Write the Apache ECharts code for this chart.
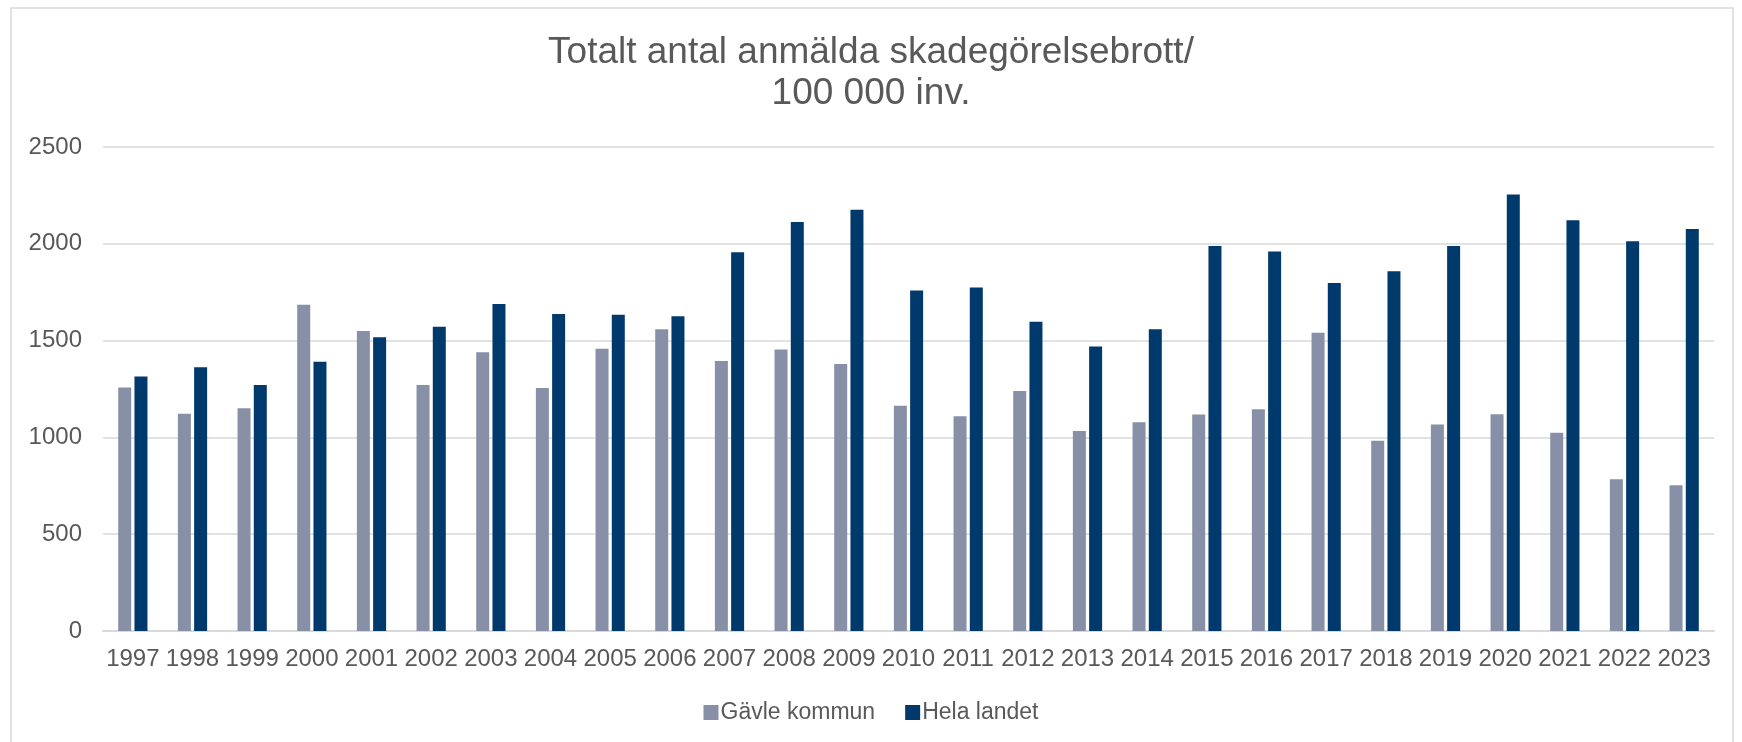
<!DOCTYPE html>
<html>
<head>
<meta charset="utf-8">
<script src="https://cdn.jsdelivr.net/npm/echarts@6/dist/echarts.min.js"></script>
<style>
  html, body { margin: 0; padding: 0; background: #fff; }
  #main { width: 1742px; height: 742px; }
</style>
</head>
<body>
<div id="main"></div>
<script>
var years = ['1997','1998','1999','2000','2001','2002','2003','2004','2005','2006','2007','2008','2009','2010',
  '2011','2012','2013','2014','2015','2016','2017','2018','2019','2020','2021','2022','2023'];
// Gävle kommun
var gavle = [1258,1122,1150,1685,1550,1271,1440,1255,1458,1559,1395,1454,1379,1163,
  1109,1240,1033,1078,1118,1146,1541,983,1066,1120,1024,784,753];
// Hela landet
var landet = [1315,1362,1271,1391,1517,1572,1689,1637,1633,1626,1956,2113,2176,1759,
  1774,1598,1469,1559,1988,1960,1797,1858,1988,2255,2121,2013,2076];

var font = 'Liberation Sans, Arial, sans-serif';
var txt = '#595959';

var chart = echarts.init(document.getElementById('main'));
chart.setOption({
  animation: false,
  title: {
    text: 'Totalt antal anmälda skadegörelsebrott/\n100 000 inv.',
    left: 'center',
    top: 27,
    textStyle: { fontFamily: font, fontSize: 37, fontWeight: 'normal', color: txt, lineHeight: 41 }
  },
  graphic: [{
    type: 'rect',
    shape: { x: 11, y: 8, width: 1722, height: 760 },
    style: { fill: 'none', stroke: '#d9d9d9', lineWidth: 1.5 },
    silent: true
  }],
  legend: {
    bottom: 13,
    left: 'center',
    itemWidth: 15,
    itemHeight: 15,
    itemGap: 30,
    icon: 'rect',
    textStyle: { fontFamily: font, fontSize: 23, color: txt, padding: [0, 0, 0, -3] },
    data: ['Gävle kommun', 'Hela landet']
  },
  grid: { left: 103, right: 28, top: 147, bottom: 111, containLabel: false, outerBoundsMode: 'none' },
  xAxis: {
    type: 'category',
    data: years,
    axisLine: { lineStyle: { color: '#d9d9d9', width: 2 } },
    axisTick: { show: false },
    axisLabel: { fontFamily: font, fontSize: 24, color: txt, margin: 16, interval: 0 }
  },
  yAxis: {
    type: 'value',
    min: 0,
    max: 2500,
    interval: 500,
    axisLine: { show: false },
    axisTick: { show: false },
    splitLine: { lineStyle: { color: '#d9d9d9', width: 1.5 } },
    axisLabel: {
      fontFamily: font, fontSize: 24, color: txt, margin: 21,
      formatter: function (v) { return String(v); }
    }
  },
  series: [
    {
      name: 'Gävle kommun',
      type: 'bar',
      data: gavle,
      barWidth: 13,
      barGap: '25%',
      itemStyle: { color: '#8790A6' }
    },
    {
      name: 'Hela landet',
      type: 'bar',
      data: landet,
      barWidth: 13,
      itemStyle: { color: '#00396B' }
    }
  ]
});
</script>
</body>
</html>
